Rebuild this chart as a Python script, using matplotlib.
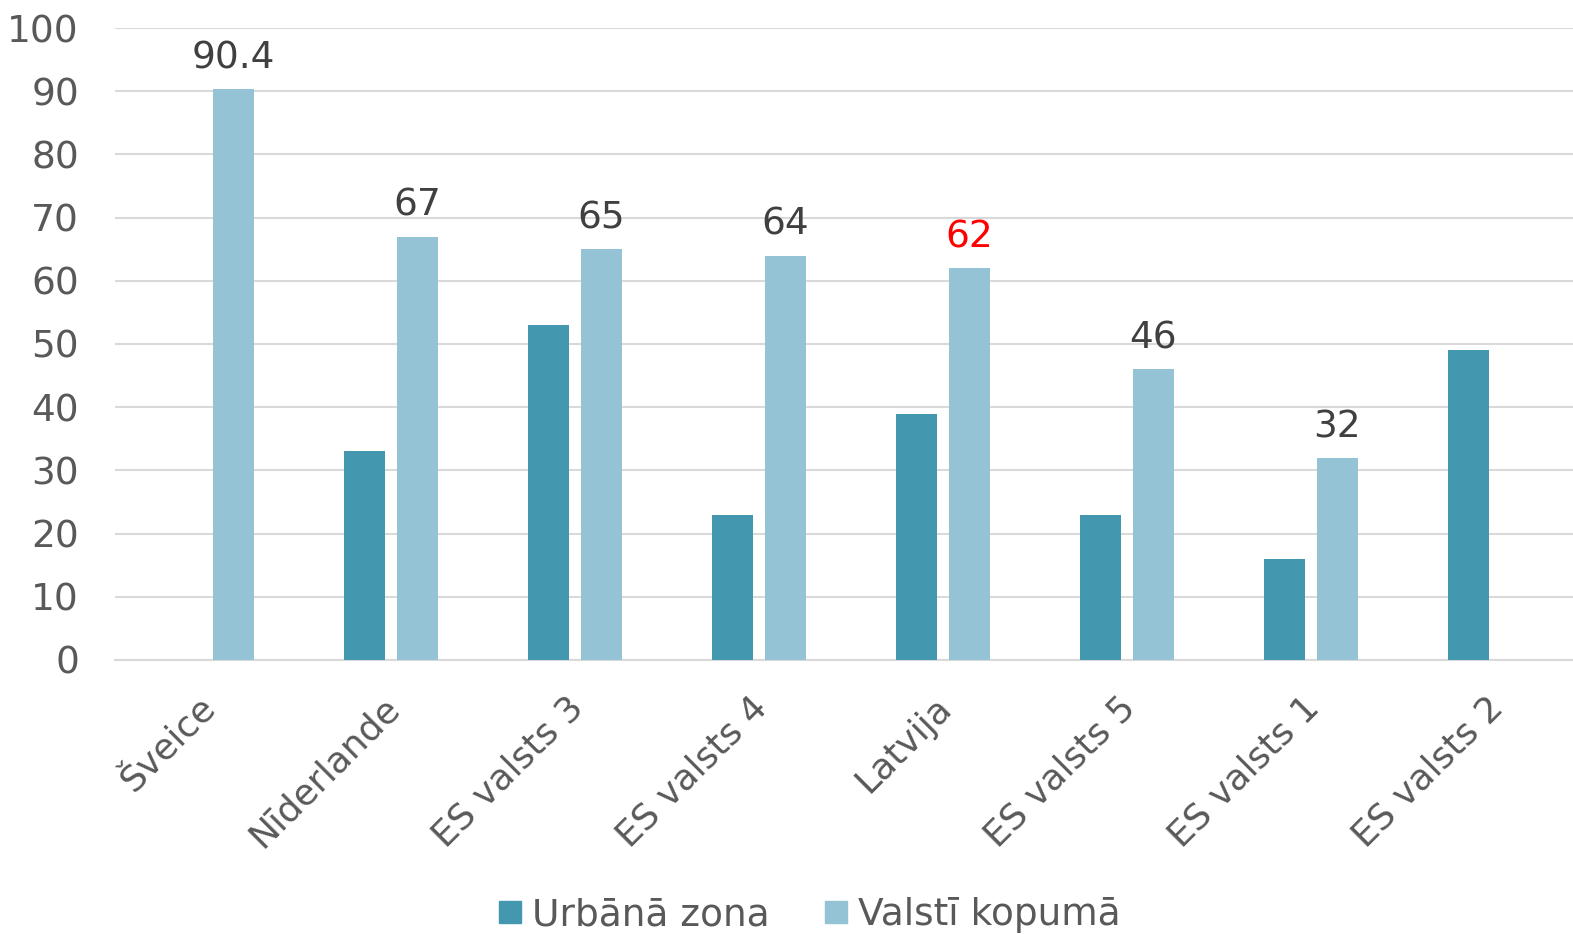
import matplotlib
matplotlib.use("Agg")
import matplotlib.pyplot as plt
import matplotlib.transforms as mtransforms
import numpy as np
from matplotlib.lines import Line2D

categories = ["Šveice", "Nīderlande", "ES valsts 3", "ES valsts 4", "Latvija",
              "ES valsts 5", "ES valsts 1", "ES valsts 2"]
urban = [np.nan, 33, 53, 23, 39, 23, 16, 49]
total = [90.4, 67, 65, 64, 62, 46, 32, np.nan]
total_labels = ["90.4", "67", "65", "64", "62", "46", "32", ""]
series_names = ["Urbānā zona", "Valstī kopumā"]
yticks = [0, 10, 20, 30, 40, 50, 60, 70, 80, 90, 100]

c_dark = "#4398B0"
c_light = "#93C3D4"
txt = "#595959"

plt.rcParams['font.family'] = ['DejaVu Sans']
fig = plt.figure(figsize=(15.73, 9.34), dpi=100)
ax = fig.add_axes([0.0731, 0.2934, 0.9358, 0.6766])

x = np.arange(len(categories))
w = 0.2228
off = 0.144
ax.bar(x - off, urban, width=w, color=c_dark, zorder=3)
ax.bar(x + off, total, width=w, color=c_light, zorder=3)

for i, (v, lab) in enumerate(zip(total, total_labels)):
    if lab:
        col = "#FF0000" if categories[i] == "Latvija" else "#404040"
        ax.text(x[i] + off, v + 2.0, lab, ha="center", va="bottom",
                fontsize=27, color=col)

ax.set_ylim(0, 100)
ax.set_xlim(-0.5, len(categories) - 0.5)
ax.set_yticks(yticks)
ax.set_yticklabels([str(t) for t in yticks], fontsize=27, color=txt)
ax.set_xticks(x)
ax.set_xticklabels([])

base = mtransforms.blended_transform_factory(ax.transData, ax.transAxes)
shift = mtransforms.ScaledTranslation(-0.09, -0.30, fig.dpi_scale_trans)
for xi, name in zip(x, categories):
    ax.text(xi, 0, name, transform=base + shift, rotation=45,
            rotation_mode="anchor", ha="right", va="top",
            fontsize=26, color=txt)

ax.tick_params(axis="both", length=0)
ax.tick_params(axis="y", pad=26)
ax.grid(axis="y", color="#D9D9D9", linewidth=1.5, zorder=0)
for s in ["top", "right", "left"]:
    ax.spines[s].set_visible(False)
ax.spines["bottom"].set_color("#D9D9D9")
ax.spines["bottom"].set_linewidth(1.5)

handles = [Line2D([], [], marker="s", linestyle="", markersize=16, color=c_dark),
           Line2D([], [], marker="s", linestyle="", markersize=16, color=c_light)]
leg = fig.legend(handles, series_names, loc="center", bbox_to_anchor=(0.513, 0.02),
                 ncol=2, frameon=False, fontsize=27, handletextpad=0.15,
                 columnspacing=1.3, handlelength=0.9)
for t in leg.get_texts():
    t.set_color(txt)

fig.savefig("out.png", dpi=100)
